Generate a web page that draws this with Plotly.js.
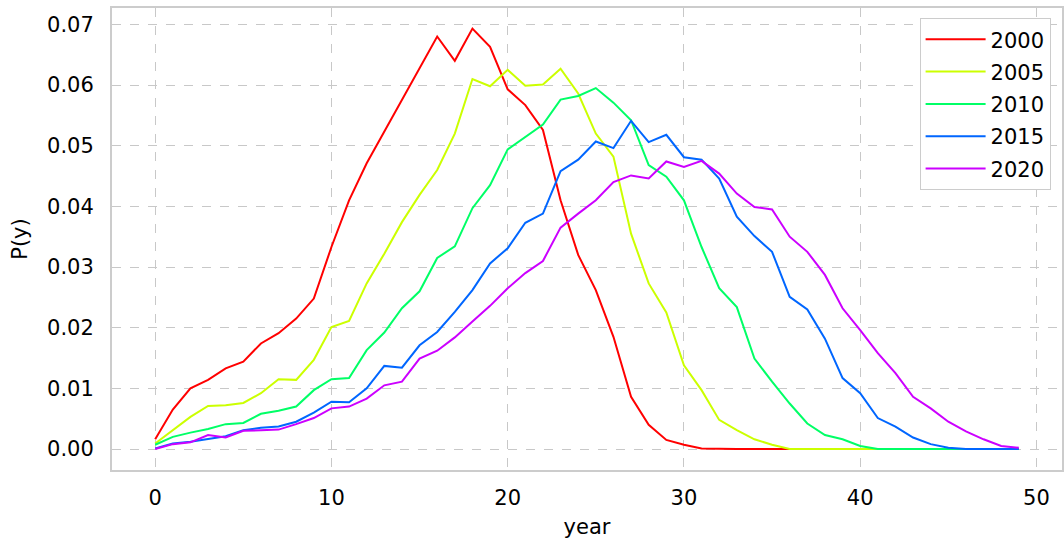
<!DOCTYPE html>
<html>
<head>
<meta charset="utf-8">
<script src="https://cdn.plot.ly/plotly-3.0.1.min.js"></script>
<style>html,body{margin:0;padding:0;background:#fff;}#chart{width:1064px;height:540px;}</style>
</head>
<body>
<div id="chart"></div>
<script>
const years = Array.from({length: 50}, (_, i) => i);
const seriesNames = ["2000", "2005", "2010", "2015", "2020"];
const seriesColors = ["#ff0000", "#ccff00", "#00ff66", "#0066ff", "#cc00ff"];

const p2000 = [0.0016,0.0065,0.0100,0.0114,0.0133,0.0144,0.0174,0.0191,0.0215,0.0248,
  0.0333,0.0410,0.0471,0.0523,0.0575,0.0627,0.0680,0.0640,0.0693,0.0663,
  0.0593,0.0567,0.0526,0.0410,0.0320,0.0262,0.0185,0.0086,0.0040,0.0015,
  0.0007,0.0001,0,0,0,0,0,0,0,0,0,0,0,0,0,0,0,0,0,0];
const p2005 = [0.0009,0.0031,0.0053,0.0071,0.0072,0.0076,0.0092,0.0115,0.0114,0.0147,
  0.0201,0.0211,0.0273,0.0322,0.0374,0.0419,0.0460,0.0520,0.0610,0.0598,
  0.0625,0.0599,0.0601,0.0627,0.0586,0.0520,0.0482,0.0355,0.0273,0.0225,
  0.0138,0.0097,0.0048,0.0031,0.0016,0.0007,0.0000,0,0,0,0,0,0,0,0,0,0,0,0,0];
const p2010 = [0.0007,0.0020,0.0027,0.0033,0.0041,0.0043,0.0058,0.0063,0.0070,0.0097,
  0.0115,0.0117,0.0163,0.0192,0.0232,0.0260,0.0315,0.0334,0.0397,0.0435,
  0.0494,0.0514,0.0535,0.0576,0.0582,0.0595,0.0571,0.0542,0.0468,0.0449,
  0.0410,0.0333,0.0265,0.0234,0.0149,0.0111,0.0075,0.0042,0.0023,0.0016,
  0.0005,0.0000,0,0,0,0,0,0,0,0];
const p2015 = [0.0001,0.0009,0.0012,0.0016,0.0021,0.0031,0.0035,0.0037,0.0045,0.0060,
  0.0078,0.0077,0.0100,0.0137,0.0134,0.0171,0.0193,0.0226,0.0262,0.0306,
  0.0331,0.0373,0.0388,0.0458,0.0477,0.0507,0.0496,0.0541,0.0506,0.0518,
  0.0481,0.0477,0.0446,0.0383,0.0351,0.0325,0.0251,0.0230,0.0182,0.0117,
  0.0092,0.0051,0.0037,0.0019,0.0008,0.0002,0.0000,0,0,0];
const p2020 = [0.0000,0.0008,0.0011,0.0023,0.0019,0.0030,0.0031,0.0032,0.0041,0.0051,
  0.0067,0.0070,0.0083,0.0105,0.0111,0.0149,0.0162,0.0184,0.0210,0.0236,
  0.0265,0.0290,0.0310,0.0365,0.0388,0.0410,0.0440,0.0451,0.0446,0.0474,
  0.0465,0.0475,0.0454,0.0421,0.0399,0.0395,0.0350,0.0325,0.0287,0.0232,
  0.0196,0.0158,0.0125,0.0086,0.0067,0.0045,0.0029,0.0016,0.0005,0.0002];
const seriesValues = [p2000, p2005, p2010, p2015, p2020];

const xTicks = [0, 10, 20, 30, 40, 50];
const yTicks = [0, 0.01, 0.02, 0.03, 0.04, 0.05, 0.06, 0.07];

const traces = seriesNames.map((name, k) => ({
  x: years, y: seriesValues[k], name: name, type: "scatter", mode: "lines",
  legendgroup: "g" + k,
  line: {color: seriesColors[k], width: 2}
}));

const font = {family: "DejaVu Sans, sans-serif", size: 21, color: "#000"};
const axisCommon = {
  showline: true, mirror: true, linecolor: "#cccccc", linewidth: 2,
  showgrid: true, gridcolor: "#c8c8c8", gridwidth: 1, griddash: "dash",
  zeroline: false, ticks: "", tickfont: font
};

const layout = {
  width: 1064, height: 540,
  margin: {l: 112, r: 2, t: 8, b: 70},
  paper_bgcolor: "#ffffff", plot_bgcolor: "#ffffff",
  font: font,
  showlegend: true,
  legend: {
    x: 0.988, y: 0.978, xanchor: "right", yanchor: "top",
    bgcolor: "#ffffff", bordercolor: "#cccccc", borderwidth: 1,
    font: {family: "DejaVu Sans, sans-serif", size: 21, color: "#000"},
    tracegroupgap: 2, itemwidth: 60
  },
  xaxis: Object.assign({}, axisCommon, {
    range: [-2.45, 51.45], tickvals: xTicks, ticktext: xTicks.map(String),
    ticklabelstandoff: 8,
    title: {text: "year", font: font, standoff: 10}
  }),
  yaxis: Object.assign({}, axisCommon, {
    range: [-0.00346, 0.0727], tickvals: yTicks, ticktext: yTicks.map(v => v.toFixed(2)),
    ticklabelstandoff: 12,
    title: {text: "P(y)", font: font, standoff: 14}
  })
};

Plotly.newPlot("chart", traces, layout, {displayModeBar: false, staticPlot: true});
</script>
</body>
</html>
